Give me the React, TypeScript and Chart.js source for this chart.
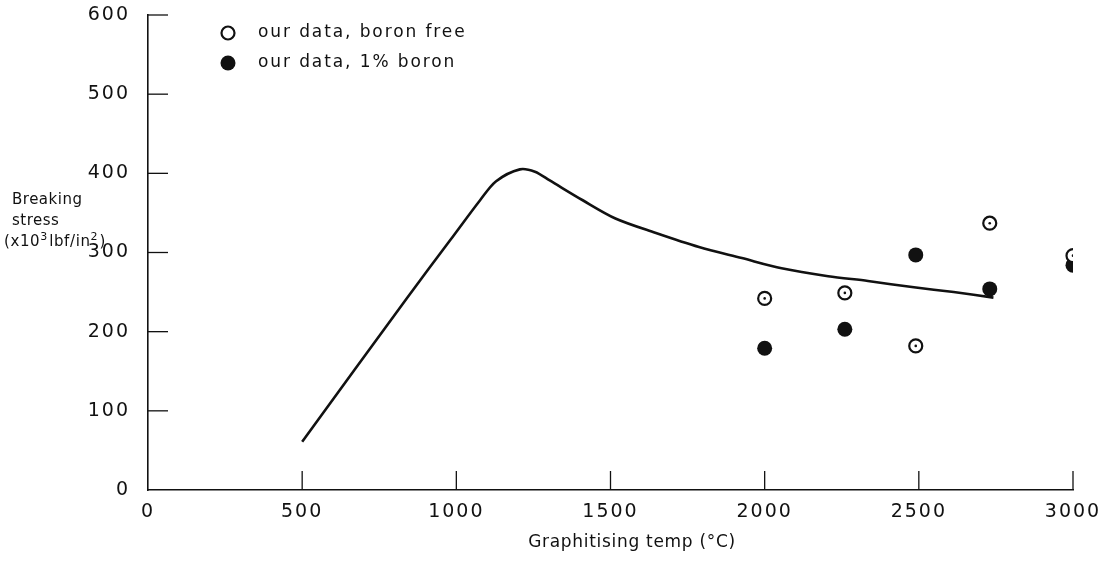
import React, { useEffect, useRef } from "react";
import { Chart, registerables } from "chart.js";

Chart.register(...registerables);

// Literature curve: breaking stress vs graphitising temperature
const curveTemp = [500, 839, 981, 1077, 1129, 1206, 1255, 1303, 1410, 1516, 1645, 1787, 1926, 2055, 2206, 2335, 2484, 2613, 2742];
const curveStress = [61, 242, 316, 366, 390, 405, 402, 391, 366, 343, 325, 307, 293, 280, 270, 264, 256, 250, 243];

// Our measurements
const sampleTemp = [2000, 2260, 2490, 2730, 3000];
const boronFreeStress = [242, 249, 182, 337, 296];
const boronStress = [179, 203, 297, 254, 284];

// Axis settings and text
const xMin = 0;
const xMax = 3000;
const xStep = 500;
const yMin = 0;
const yMax = 600;
const yStep = 100;
const legendLabels = ["our data, boron free", "our data, 1% boron"];
const xTitle = "Graphitising temp (°C)";
const yTitleLines = ["Breaking", "stress"];
// unit line as [text, raised?] pieces: (x10³ lbf/in²)
const yUnitPieces: [string, boolean][] = [["(x10", false], ["3", true], ["lbf/in", false], ["2", true], [")", false]];

const FONT = "'DejaVu Sans', sans-serif";
const INK = "#111";

const toPoints = (xs: number[], ys: number[]) => xs.map((x, i) => ({ x, y: ys[i] }));

// Wider lettering for the tick labels
const lettering = {
  id: "lettering",
  beforeDraw(chart: any) {
    chart.ctx.letterSpacing = "2px";
  },
};

// Inward tick marks, in-plot legend and axis titles
const decorations = {
  id: "decorations",
  afterDraw(chart: any) {
    const { ctx, chartArea, scales } = chart;
    const xs = scales.x;
    const ys = scales.y;
    ctx.save();
    ctx.strokeStyle = INK;
    ctx.lineWidth = 1.3;
    xs.ticks.forEach((t: any) => {
      if (t.value === xMin) return;
      const px = xs.getPixelForValue(t.value);
      ctx.beginPath();
      ctx.moveTo(px, chartArea.bottom);
      ctx.lineTo(px, chartArea.bottom - 19);
      ctx.stroke();
    });
    ys.ticks.forEach((t: any) => {
      if (t.value === yMin) return;
      const py = ys.getPixelForValue(t.value);
      ctx.beginPath();
      ctx.moveTo(chartArea.left, py);
      ctx.lineTo(chartArea.left + 20, py);
      ctx.stroke();
    });

    // legend
    const lx = 228;
    const ly = [33, 63];
    ctx.lineWidth = 2.2;
    ctx.beginPath();
    ctx.arc(lx, ly[0], 6.5, 0, Math.PI * 2);
    ctx.fillStyle = "#fff";
    ctx.fill();
    ctx.stroke();
    ctx.beginPath();
    ctx.arc(lx, ly[1], 7.5, 0, Math.PI * 2);
    ctx.fillStyle = INK;
    ctx.fill();
    ctx.fillStyle = INK;
    ctx.font = `17px ${FONT}`;
    ctx.letterSpacing = "1.9px";
    ctx.textAlign = "left";
    ctx.textBaseline = "middle";
    legendLabels.forEach((s, i) => ctx.fillText(s, lx + 30, ly[i]));

    // x axis title
    ctx.letterSpacing = "0.7px";
    ctx.font = `17px ${FONT}`;
    ctx.textAlign = "center";
    ctx.fillText(xTitle, 632, 543);

    // y axis title
    ctx.font = `15px ${FONT}`;
    ctx.textAlign = "left";
    ctx.letterSpacing = "0.5px";
    ctx.fillText(yTitleLines[0], 12, 200);
    ctx.fillText(yTitleLines[1], 12, 221);
    let ux = 4;
    const uy = 242;
    yUnitPieces.forEach(([s, raised]) => {
      ctx.font = raised ? `11px ${FONT}` : `15px ${FONT}`;
      ctx.letterSpacing = raised ? "0px" : "0.6px";
      const w = ctx.measureText(s).width;
      ctx.fillText(s, ux, raised ? uy - 5 : uy);
      ux += w + (raised ? 2 : 0);
    });
    ctx.restore();
    ctx.letterSpacing = "0px";
  },
};

export default function App() {
  const canvasRef = useRef<HTMLCanvasElement | null>(null);

  useEffect(() => {
    if (!canvasRef.current) return;
    const chart = new Chart(canvasRef.current, {
      type: "scatter",
      data: {
        datasets: [
          {
            type: "line",
            label: "curve",
            data: toPoints(curveTemp, curveStress),
            borderColor: INK,
            borderWidth: 2.6,
            pointRadius: 0,
            tension: 0.3,
            fill: false,
            order: 3,
          } as any,
          {
            label: legendLabels[1],
            data: toPoints(sampleTemp, boronStress),
            pointRadius: 7.5,
            pointBackgroundColor: INK,
            pointBorderColor: INK,
            pointBorderWidth: 0,
            order: 2,
          },
          {
            label: legendLabels[0],
            data: toPoints(sampleTemp, boronFreeStress),
            pointRadius: 6.5,
            pointBackgroundColor: "#fff",
            pointBorderColor: INK,
            pointBorderWidth: 2.2,
            order: 1,
          },
          {
            label: "centre",
            data: toPoints(sampleTemp, boronFreeStress),
            pointRadius: 1.3,
            pointBackgroundColor: INK,
            pointBorderWidth: 0,
            order: 0,
          },
        ],
      },
      options: {
        animation: false,
        responsive: true,
        maintainAspectRatio: false,
        layout: { padding: { left: 0, top: 15, right: 39, bottom: 0 } },
        plugins: {
          legend: { display: false },
          tooltip: { enabled: false },
        },
        scales: {
          x: {
            type: "linear",
            min: xMin,
            max: xMax,
            ticks: {
              stepSize: xStep,
              color: INK,
              padding: 11,
              maxRotation: 0,
              font: { family: FONT, size: 19 },
              callback: (v: any) => String(v),
            },
            grid: { display: false, drawTicks: false },
            border: { display: true, color: INK, width: 1.6 },
            afterFit: (s: any) => {
              s.height = 74;
              s.paddingLeft = 0;
              s.paddingRight = 0;
            },
          },
          y: {
            min: yMin,
            max: yMax,
            ticks: {
              stepSize: yStep,
              color: INK,
              padding: 18,
              font: { family: FONT, size: 19 },
              callback: (v: any) => String(v),
            },
            grid: { display: false, drawTicks: false },
            border: { display: true, color: INK, width: 1.6 },
            afterFit: (s: any) => {
              s.width = 148;
              s.paddingTop = 0;
              s.paddingBottom = 0;
            },
          },
        },
      },
      plugins: [lettering, decorations],
    });
    return () => chart.destroy();
  }, []);

  return (
    <div style={{ position: "absolute", left: 0, top: 0, width: 1112, height: 564, background: "#fff" }}>
      <canvas ref={canvasRef} />
    </div>
  );
}
